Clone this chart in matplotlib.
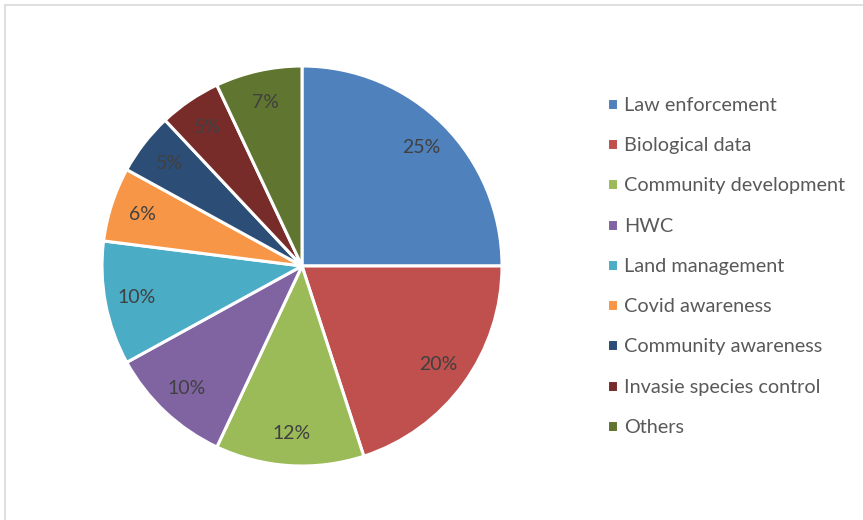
import matplotlib.pyplot as plt
from matplotlib.patches import Rectangle

categories = ["Law enforcement", "Biological data", "Community development", "HWC",
              "Land management", "Covid awareness", "Community awareness",
              "Invasie species control", "Others"]
shares = [25, 20, 12, 10, 10, 6, 5, 5, 7]
colors = ["#4F81BD", "#C0504D", "#9BBB59", "#8064A2", "#4BACC6",
          "#F79646", "#2C4D75", "#772C2A", "#5F7530"]

plt.rcParams['font.family'] = ['Lato', 'DejaVu Sans']

W, H = 863, 520
fig = plt.figure(figsize=(W / 100, H / 100), dpi=100)

# pie centred at (302, 266) px with radius 200 px
cx, cy, r = 302, 266, 200
ax = fig.add_axes([(cx - r) / W, (H - cy - r) / H, 2 * r / W, 2 * r / H])
wedges, texts, autotexts = ax.pie(
    shares, colors=colors, startangle=90, counterclock=False,
    autopct='%1.0f%%', pctdistance=0.84,
    wedgeprops=dict(edgecolor='white', linewidth=2.2),
    textprops=dict(color='#404040', fontsize=14))
ax.set_aspect('equal')
ax.set_xlim(-1, 1)
ax.set_ylim(-1, 1)

leg = fig.legend(wedges, categories, loc='upper left',
                 bbox_to_anchor=(599 / W, 1 - 89 / H),
                 frameon=False, fontsize=14.3, labelcolor='#595959',
                 handlelength=0.55, handleheight=0.55, handletextpad=0.3,
                 labelspacing=1.17, borderaxespad=0)

# light chart-area border along top and left
fig.patches.append(Rectangle((5 / W, -0.1), 1.2, 1 - 5 / H + 0.1,
                             transform=fig.transFigure, fill=False,
                             edgecolor='#D9D9D9', linewidth=1.2))

fig.savefig('out.png', dpi=100)
